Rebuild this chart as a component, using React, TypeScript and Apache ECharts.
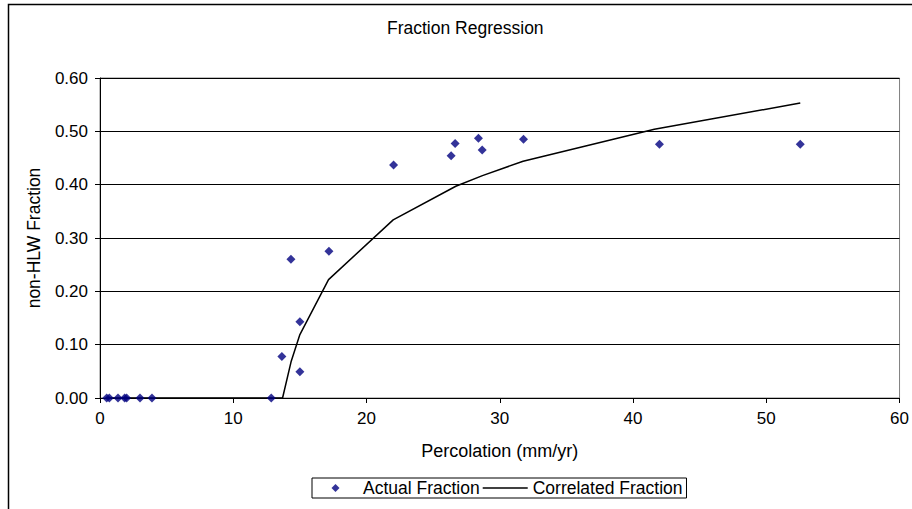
import React, { useEffect, useRef } from "react";
import * as echarts from "echarts";

const titleText = "Fraction Regression";
const xAxisName = "Percolation (mm/yr)";
const yAxisName = "non-HLW Fraction";
const seriesNames = ["Actual Fraction", "Correlated Fraction"];

const actualX = [0.5, 0.7, 1.35, 1.85, 2.0, 3.0, 3.9, 12.85, 13.65, 14.33, 15.0, 15.0, 17.18, 22.03, 26.35, 26.65, 28.4, 28.68, 31.78, 41.98, 52.55];
const actualY = [0, 0, 0, 0, 0, 0, 0, 0, 0.078, 0.26, 0.143, 0.049, 0.275, 0.437, 0.454, 0.477, 0.487, 0.465, 0.485, 0.476, 0.476];

const corrX = [0.5, 12.85, 13.7, 14.35, 15.0, 17.15, 22.0, 26.7, 28.7, 31.75, 41.6, 52.55];
const corrY = [0, 0, 0, 0.069, 0.119, 0.222, 0.334, 0.397, 0.417, 0.444, 0.504, 0.553];

const FONT = "'Liberation Sans', Arial, sans-serif";

export default function App() {
  const ref = useRef<HTMLDivElement>(null);
  useEffect(() => {
    if (!ref.current) return;
    const chart = echarts.init(ref.current, undefined, { renderer: "svg" });
    chart.setOption({
      animation: false,
      backgroundColor: "#fff",
      textStyle: { fontFamily: FONT, color: "#000" },
      title: {
        text: titleText,
        left: 387,
        top: 19,
        padding: 0,
        textStyle: { fontFamily: FONT, fontSize: 17.5, fontWeight: "normal", color: "#000" },
      },
      graphic: [
        {
          type: "rect",
          shape: { x: 8.5, y: 4.5, width: 920, height: 530 },
          style: { fill: "none", stroke: "#000", lineWidth: 1.5 },
          silent: true,
          z: 100,
        },
      ],
      legend: {
        left: 312,
        top: 478,
        orient: "horizontal",
        padding: [1, 4, 1, 1],
        borderColor: "#000",
        borderWidth: 1,
        backgroundColor: "#fff",
        itemWidth: 45,
        itemHeight: 8,
        itemGap: 3,
        textStyle: { fontFamily: FONT, fontSize: 17.5, color: "#000" },
        data: [
          {
            name: seriesNames[0],
            icon: "path://M0,4L0.01,4L0,4Z M18.5,4L22.5,0L26.5,4L22.5,8Z M45,4L44.99,4L45,4Z",
          },
          { name: seriesNames[1], icon: "path://M0,0H45V1.5H0Z" },
        ],
      },
      grid: {
        left: 100,
        right: 10,
        top: 78,
        bottom: 111,
        show: true,
        borderColor: "#808080",
        borderWidth: 1,
        backgroundColor: "transparent",
      },
      xAxis: {
        type: "value",
        min: 0,
        max: 60,
        interval: 10,
        name: xAxisName,
        nameLocation: "middle",
        nameGap: 44,
        nameTextStyle: { fontFamily: FONT, fontSize: 18, color: "#000" },
        axisLine: { show: true, onZero: false, lineStyle: { color: "#000", width: 1 } },
        axisTick: { show: true, inside: false, length: 5, lineStyle: { color: "#000" } },
        axisLabel: { fontFamily: FONT, fontSize: 17, color: "#000", margin: 12 },
        splitLine: { show: false },
      },
      yAxis: {
        type: "value",
        min: 0,
        max: 0.6,
        interval: 0.1,
        name: yAxisName,
        nameLocation: "middle",
        nameGap: 57,
        nameRotate: 90,
        nameTextStyle: { fontFamily: FONT, fontSize: 17.5, color: "#000" },
        axisLine: { show: true, lineStyle: { color: "#000", width: 1 } },
        axisTick: { show: true, inside: false, length: 5, lineStyle: { color: "#000" } },
        axisLabel: {
          fontFamily: FONT,
          fontSize: 17,
          color: "#000",
          margin: 12,
          formatter: (v: number) => v.toFixed(2),
        },
        splitLine: { show: true, lineStyle: { color: "#000", width: 1 } },
      },
      series: [
        {
          name: seriesNames[0],
          type: "scatter",
          symbol: "diamond",
          symbolSize: 9,
          itemStyle: { color: "#000080" },
          data: actualX.map((x, i) => [x, actualY[i]]),
          z: 3,
        },
        {
          name: seriesNames[1],
          type: "line",
          showSymbol: false,
          symbol: "none",
          lineStyle: { color: "#000", width: 1.5 },
          itemStyle: { color: "#000" },
          data: corrX.map((x, i) => [x, corrY[i]]),
          z: 2,
        },
      ],
    });
    return () => chart.dispose();
  }, []);
  return (
    <div
      ref={ref}
      style={{ position: "absolute", left: 0, top: 0, width: 912, height: 509 }}
    />
  );
}
